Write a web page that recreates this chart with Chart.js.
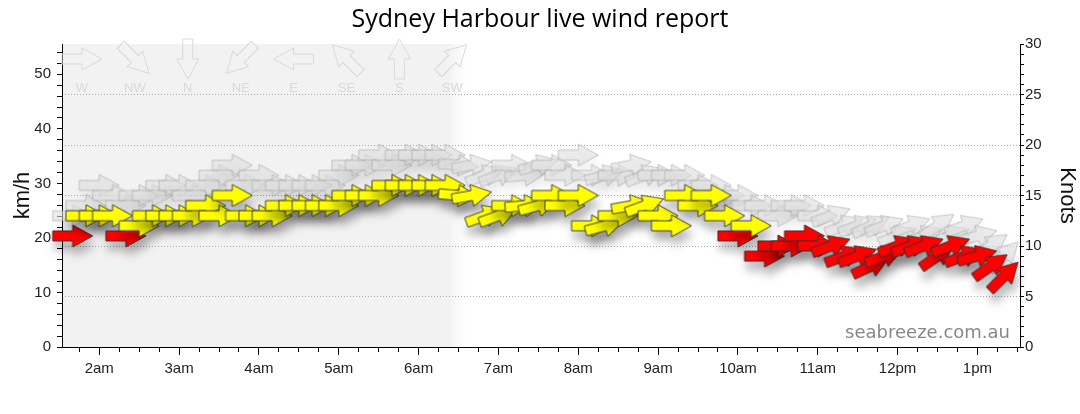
<!DOCTYPE html>
<html><head><meta charset="utf-8">
<script src="https://cdn.jsdelivr.net/npm/chart.js@4.4.1/dist/chart.umd.min.js"></script>
<style>html,body{margin:0;padding:0;background:#fff;overflow:hidden}canvas{display:block}</style>
</head><body>
<canvas id="c" width="1080" height="414"></canvas>
<script>
// ---- data ----
const times = ['01:40','01:50','02:00','02:10','02:20','02:30','02:40','02:50','03:00','03:10','03:20','03:30','03:40','03:50','04:00','04:10','04:20','04:30','04:40','04:50','05:00','05:10','05:20','05:30','05:40','05:50','06:00','06:10','06:20','06:30','06:40','06:50','07:00','07:10','07:20','07:30','07:40','07:50','08:00','08:10','08:20','08:30','08:40','08:50','09:00','09:10','09:20','09:30','09:40','09:50','10:00','10:10','10:20','10:30','10:40','10:50','11:00','11:10','11:20','11:30','11:40','11:50','12:00','12:10','12:20','12:30','12:40','12:50','13:00','13:10','13:20'];
const windKnots = [11,13,13,13,11,12,13,13,13,13, 14,13,15,13,13,13,14,14,14,14, 14,15,15,15,16,16,16,16,16,15, 15,13,13,14,14,14,15,14,15,12, 12,13,14,14,13,12,15,14,15,13, 11,12,9,10,10,11,10,10,9,9, 8,9,10,10,10,9,10,9,9,8, 7];
const gustKnots = [13,14,16,15,14,15,15,16,16,15, 16,17,18,16,17,16,16,16,16,16, 17,18,18,19,18,19,19,19,19,18, 18,17,17,18,17,18,18,17,19,17, 17,17,18,17,17,17,17,16,16,15, 15,14,14,13,14,14,13,13,12,12, 12,12,11,12,11,12,11,12,11,10, 9];
const windFromDeg = [270,270,270,270,270,270,270,270,270,270, 270,270,270,270,270,270,270,270,270,270, 270,270,270,270,270,270,270,270,270,275, 260,250,250,270,265,255,270,270,270,270, 255,270,260,250,270,270,270,270,270,270, 270,270,270,270,270,270,270,250,250,250, 245,250,250,250,250,235,250,250,255,235, 225];
const hourTickTimes = ['02:00','03:00','04:00','05:00','06:00','07:00','08:00','09:00','10:00','11:00','12:00','13:00'];
const hourTickLabels = ['2am','3am','4am','5am','6am','7am','8am','9am','10am','11am','12pm','1pm'];
const compassLabels = ['W','NW','N','NE','E','SE','S','SW'];
const compassFromDeg = [270,315,0,45,90,135,180,225];
const axisStart = '01:32', axisEnd = '13:32';
const nightEnd = '06:22', dawnEnd = '06:36';
const KMH_PER_KNOT = 1.852;
const RED_MAX_KNOTS = 11;

// ---- helpers ----
const toMin = s => { const [h, m] = s.split(':').map(Number); return h * 60 + m; };
const rot = d => (d + 90) % 360;
function arrowPath(g) {
  g.beginPath();
  g.moveTo(-20, -5); g.lineTo(0, -5); g.lineTo(0, -11); g.lineTo(20, 0);
  g.lineTo(0, 11); g.lineTo(0, 5); g.lineTo(-20, 5); g.closePath();
}
function makeArrow(fill, stroke) {
  const c = document.createElement('canvas');
  c.width = 46; c.height = 28;
  const g = c.getContext('2d');
  g.translate(23, 14);
  arrowPath(g);
  g.fillStyle = fill; g.fill();
  g.lineWidth = 1; g.strokeStyle = stroke; g.stroke();
  return c;
}
const yellowArrow = makeArrow('#ffff00', '#44443a');
const redArrow = makeArrow('#ff0000', '#442a2a');
const gustArrow = makeArrow('rgba(222,222,222,0.6)', 'rgba(165,165,165,0.6)');

const FONT = "'Liberation Sans', Arial, sans-serif";

const bgPlugin = {
  id: 'nightBg',
  beforeDraw(chart) {
    const { ctx, chartArea: a, scales } = chart;
    const x1 = scales.x.getPixelForValue(toMin(nightEnd));
    const x2 = scales.x.getPixelForValue(toMin(dawnEnd));
    ctx.save();
    ctx.fillStyle = '#f2f2f2';
    ctx.fillRect(a.left, a.top, x1 - a.left, a.bottom - a.top);
    const gr = ctx.createLinearGradient(x1, 0, x2, 0);
    gr.addColorStop(0, '#f2f2f2'); gr.addColorStop(1, 'rgba(242,242,242,0)');
    ctx.fillStyle = gr;
    ctx.fillRect(x1, a.top, x2 - x1, a.bottom - a.top);
    ctx.restore();
  },
  beforeDatasetsDraw(chart) {
    const { ctx, chartArea: a } = chart;
    ctx.save();
    compassLabels.forEach((lab, i) => {
      const cx = a.left + 20 + i * 52.9, cy = a.top + 15;
      ctx.save();
      ctx.translate(cx, cy);
      ctx.rotate(rot(compassFromDeg[i]) * Math.PI / 180);
      arrowPath(ctx);
      ctx.lineWidth = 1; ctx.strokeStyle = '#d9d9d9'; ctx.stroke();
      ctx.restore();
      ctx.fillStyle = '#d9d9d9';
      ctx.font = '13px ' + FONT;
      ctx.textAlign = 'center'; ctx.textBaseline = 'middle';
      ctx.fillText(lab, cx, a.top + 44);
    });
    ctx.restore();
  },
  beforeDatasetDraw(chart, args) {
    const ctx = chart.ctx;
    ctx.save();
    ctx.shadowColor = args.index === 0 ? 'rgba(0,0,0,0.28)' : 'rgba(0,0,0,0.08)';
    ctx.shadowBlur = 10; ctx.shadowOffsetX = 2; ctx.shadowOffsetY = 9;
  },
  afterDatasetDraw(chart) { chart.ctx.restore(); },
  afterDraw(chart) {
    const { ctx, chartArea: a } = chart;
    ctx.save();
    ctx.fillStyle = '#888';
    ctx.font = "18px 'DejaVu Sans', sans-serif";
    ctx.textAlign = 'right'; ctx.textBaseline = 'alphabetic';
    ctx.fillText('seabreeze.com.au', a.right - 10, a.bottom - 9);
    ctx.restore();
  }
};

const xTicks = [];
for (let v = 105; v <= 810; v += 15) xTicks.push(v);
const hourMap = {};
hourTickTimes.forEach((t, i) => hourMap[toMin(t)] = hourTickLabels[i]);

new Chart(document.getElementById('c'), {
  type: 'scatter',
  data: {
    datasets: [
      {
        label: 'Wind',
        data: times.map((t, i) => ({ x: toMin(t), y: windKnots[i] })),
        yAxisID: 'yKn',
        pointStyle: c => windKnots[c.dataIndex] <= RED_MAX_KNOTS ? redArrow : yellowArrow,
        pointRotation: c => rot(windFromDeg[c.dataIndex]),
        pointRadius: 10,
        clip: false
      },
      {
        label: 'Gust',
        data: times.map((t, i) => ({ x: toMin(t), y: gustKnots[i] })),
        yAxisID: 'yKn',
        pointStyle: gustArrow,
        pointRotation: c => rot(windFromDeg[c.dataIndex]),
        pointRadius: 10,
        clip: false
      }
    ]
  },
  options: {
    responsive: false,
    animation: false,
    events: [],
    layout: { padding: 0 },
    plugins: {
      legend: { display: false },
      tooltip: { enabled: false },
      title: {
        display: true,
        text: 'Sydney Harbour live wind report',
        color: '#000',
        font: { size: 25, family: "'Open Sans', sans-serif", weight: 'normal', lineHeight: 1.2 },
        padding: { top: 5, bottom: 9 }
      }
    },
    scales: {
      x: {
        type: 'linear', position: 'bottom',
        min: toMin(axisStart), max: toMin(axisEnd),
        afterBuildTicks: s => { s.ticks = xTicks.map(v => ({ value: v })); },
        afterFit: s => { s.height = 67; },
        ticks: {
          autoSkip: false, maxRotation: 0, padding: 5, color: '#222',
          font: { size: 15, family: FONT },
          callback: v => hourMap[v] || ''
        },
        grid: {
          drawOnChartArea: false, tickLength: 8, tickColor: '#000',
          tickBorderDash: c => (c.tick && hourMap[c.tick.value]) ? [] : [4, 40]
        },
        border: { color: '#000', width: 1 }
      },
      yKm: {
        type: 'linear', position: 'left',
        min: 0, max: 30 * KMH_PER_KNOT,
        afterFit: s => { s.width = 62; },
        ticks: {
          stepSize: 2, includeBounds: false, autoSkip: false, maxTicksLimit: 100,
          padding: 6, color: '#222', font: { size: 15, family: FONT },
          callback: v => (v % 10 === 0 ? v : '')
        },
        grid: { drawOnChartArea: false, tickLength: 5, tickColor: '#000' },
        border: { color: '#000', width: 1 },
        title: { display: true, text: 'km/h', color: '#111', font: { size: 22, family: FONT }, padding: { top: 10 } }
      },
      yKn: {
        type: 'linear', position: 'right',
        min: 0, max: 30,
        afterFit: s => { s.width = 60; },
        ticks: {
          stepSize: 1, autoSkip: false, maxTicksLimit: 100,
          padding: 1, color: '#222', font: { size: 15, family: FONT },
          callback: v => (v % 5 === 0 ? v : '')
        },
        grid: {
          drawOnChartArea: true, tickLength: 4, tickColor: '#000',
          color: c => (c.tick && c.tick.value % 5 === 0 && c.tick.value > 0 && c.tick.value < 30) ? '#a8a8a8' : 'rgba(0,0,0,0)'
        },
        border: { color: '#000', width: 1, dash: [1, 2] },
        title: { display: true, text: 'Knots', color: '#111', font: { size: 22, family: FONT }, padding: { top: 0 } }
      }
    }
  },
  plugins: [bgPlugin]
});
</script>
</body></html>
